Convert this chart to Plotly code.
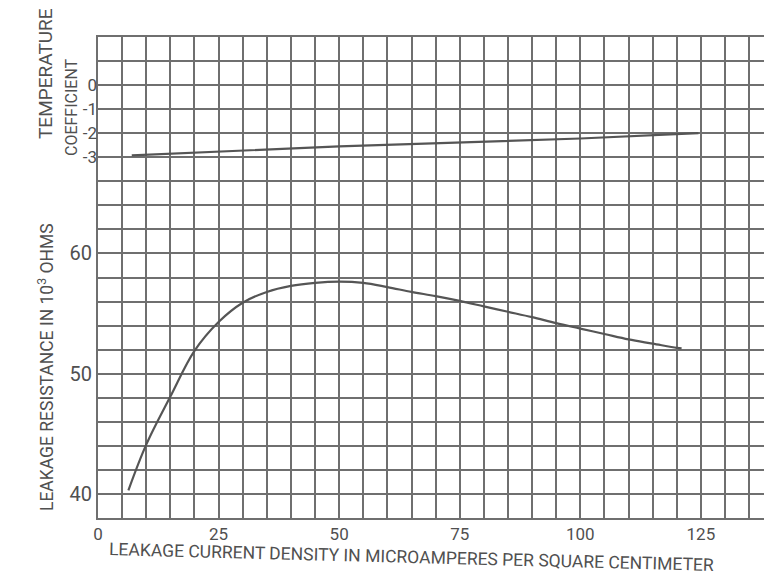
import plotly.graph_objects as go

# Leakage resistance curve (10^3 ohms) vs leakage current density (uA/cm^2)
current_density = [6.3, 10, 15, 20, 25, 30, 35, 40, 45, 50, 55, 60, 65, 70,
                   75, 80, 85, 90, 95, 100, 105, 110, 115, 120, 121]
leakage_resistance = [40.3, 44.1, 48.1, 51.9, 54.3, 55.9, 56.8, 57.3, 57.55, 57.65,
                      57.55, 57.2, 56.8, 56.45, 56.05, 55.6, 55.15, 54.7, 54.2, 53.75,
                      53.3, 52.85, 52.5, 52.15, 52.1]

# Temperature coefficient line
temp_current_density = [7, 50, 100, 124.5]
temp_coefficient = [-2.92, -2.55, -2.22, -2.0]

x_tick_labels = [0, 25, 50, 75, 100, 125]
y_tick_labels = [40, 50, 60]
temp_tick_labels = [0, -1, -2, -3]

GRID = "#6f6f6f"
INK = "#555555"
TXT = "#505050"
FONT = "Roboto, Liberation Sans, sans-serif"

# page body has an 8px margin, so the figure is drawn offset by (8, 8)
OFF = 8
W, H = 764, 569
L, R, T, B = 90, 6, 29, 59

fig = go.Figure()
fig.add_trace(go.Scatter(x=current_density, y=leakage_resistance, mode="lines",
                         line=dict(color=INK, width=2.2, shape="spline", smoothing=1.0),
                         showlegend=False, yaxis="y"))
fig.add_trace(go.Scatter(x=temp_current_density, y=temp_coefficient, mode="lines",
                         line=dict(color=INK, width=2.2),
                         showlegend=False, yaxis="y2"))

fig.update_layout(
    width=W, height=H,
    margin=dict(l=L, r=R, t=T, b=B, autoexpand=False),
    paper_bgcolor="white", plot_bgcolor="white",
    font=dict(family=FONT, color=TXT),
    xaxis=dict(range=[0, 138.5], tickmode="array", tickvals=x_tick_labels,
               ticktext=[str(v) for v in x_tick_labels], automargin=False,
               showgrid=True, gridcolor=GRID, gridwidth=1.5,
               minor=dict(dtick=5, tick0=0, showgrid=True, gridcolor=GRID, gridwidth=1.5),
               showline=True, linecolor=GRID, linewidth=2, mirror=True,
               zeroline=False, ticks="", tickfont=dict(size=17, color=TXT),
               ticklabelstandoff=0),
    yaxis=dict(range=[38, 78], tickmode="array", tickvals=y_tick_labels,
               ticktext=[str(v) for v in y_tick_labels], automargin=False,
               showgrid=True, gridcolor=GRID, gridwidth=1.5,
               minor=dict(dtick=2, tick0=0, showgrid=True, gridcolor=GRID, gridwidth=1.5),
               showline=True, linecolor=GRID, linewidth=2, mirror=True,
               zeroline=False, ticks="", tickfont=dict(size=20, color=TXT),
               ticklabelstandoff=0),
    yaxis2=dict(range=[-18, 2], overlaying="y", side="left", tickmode="array",
                tickvals=temp_tick_labels, ticktext=["0", "-1", "-2", "-3"],
                automargin=False, showgrid=False, zeroline=False, showline=False,
                ticks="", tickfont=dict(size=17, color=TXT), ticklabelstandoff=0),
)


def px_ann(text, cx, cy, size, angle=0):
    # cx, cy are window pixel positions; convert to paper coordinates
    w, h = W - L - R, H - T - B
    fx, fy = cx - OFF, cy - OFF
    fig.add_annotation(text=text, x=(fx - L) / w, y=1 - (fy - T) / h,
                       xref="paper", yref="paper", xanchor="center", yanchor="middle",
                       textangle=angle, showarrow=False,
                       font=dict(size=size, family=FONT, color=TXT))


px_ann("TEMPERATURE", 46, 74, 19, -90)
px_ann("COEFFICIENT", 71, 107, 16, -90)
px_ann("LEAKAGE RESISTANCE IN 10<sup>3</sup> OHMS", 46, 367, 17.5, -90)
px_ann("LEAKAGE CURRENT DENSITY IN MICROAMPERES PER SQUARE CENTIMETER", 411, 557, 17.5, 1.5)

fig.write_html("out.html")
